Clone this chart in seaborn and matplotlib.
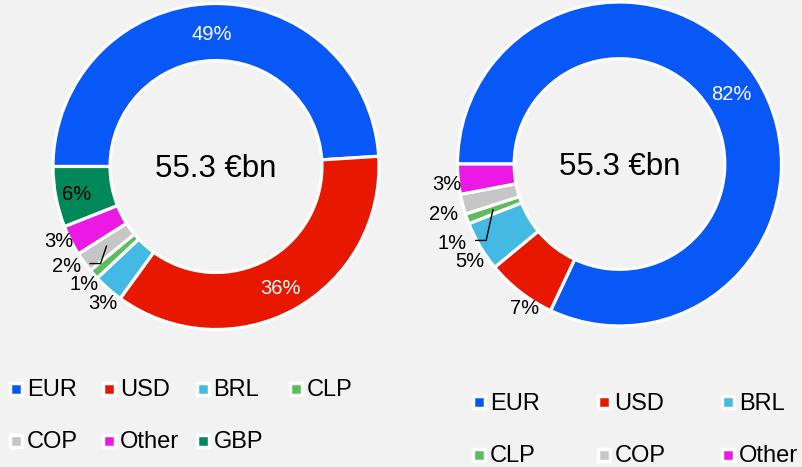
import numpy as np
import matplotlib
matplotlib.use('Agg')
import matplotlib.pyplot as plt
import seaborn as sns

## 資料
left_names = ['EUR', 'USD', 'BRL', 'CLP', 'COP', 'Other', 'GBP']
left_values = [49, 36, 3, 1, 2, 3, 6]
right_names = ['EUR', 'USD', 'BRL', 'CLP', 'COP', 'Other']
right_values = [82, 7, 5, 1, 2, 3]
center_text = '55.3 €bn'

colors = {'EUR': '#0858F8', 'USD': '#E81800', 'BRL': '#44B9E4', 'CLP': '#5BBD5B',
          'COP': '#C6C6C6', 'Other': '#EC18E6', 'GBP': '#00875A'}

## 標籤位置 (半徑, 角度微調, 字色)
left_lab_r = [0.82, 0.84, 1.085, 1.082, 1.10, 1.065, 0.87]
left_lab_da = [0, -0.9, 1.7, 0.2, -2.6, -1.8, 0]
left_lab_c = ['white', 'white', 'black', 'black', 'black', 'black', 'black']
right_lab_r = [0.815, 1.06, 1.10, 1.14, 1.13, 1.07]
right_lab_da = [0, 4.3, 2.1, 5.2, 1.1, 0.9]
right_lab_c = ['white', 'black', 'black', 'black', 'black', 'black']

bg = '#F2F2F2'
sns.set_theme(style='white', rc={'figure.facecolor': bg, 'axes.facecolor': 'none'})
plt.rcParams['font.family'] = ['Liberation Sans', 'DejaVu Sans']

fig = plt.figure(figsize=(8.02, 4.67), dpi=100)
W, H = 802, 467

def donut(cx, cy, R, names, values, lab_r, lab_da, lab_c, leader):
    size = 2.5 * R
    ax = fig.add_axes([(cx - size / 2) / W, (H - cy - size / 2) / H, size / W, size / H])
    pal = [colors[n] for n in names]
    wedges, _ = ax.pie(values, colors=pal, startangle=180, counterclock=False,
                       wedgeprops=dict(width=0.35, edgecolor='white', linewidth=2.3))
    ax.set_xlim(-1.25, 1.25)
    ax.set_ylim(-1.25, 1.25)
    ax.set_aspect('equal')
    ax.axis('off')
    for i, w in enumerate(wedges):
        mid = (w.theta1 + w.theta2) / 2
        a = np.deg2rad(mid + lab_da[i])
        x, y = lab_r[i] * np.cos(a), lab_r[i] * np.sin(a)
        ax.text(x, y - 0.008, f'{values[i]}%', ha='center', va='center', fontsize=14.5, color=lab_c[i])
        if names[i] == leader:
            m = np.deg2rad(mid)
            ex, ey = 0.83 * np.cos(m), 0.83 * np.sin(m)
            sx = x + 0.145
            ax.plot([sx, sx + 0.065, ex], [y + 0.01, y + 0.01, ey], color='black', lw=1)
    ax.text(0, -0.018, center_text, ha='center', va='center', fontsize=22.5, color='black')
    return ax

donut(216, 166.5, 163, left_names, left_values, left_lab_r, left_lab_da, left_lab_c, 'COP')
donut(619.5, 164, 162, right_names, right_values, right_lab_r, right_lab_da, right_lab_c, 'CLP')

## 圖例
lg = fig.add_axes([0, 0, 1, 1])
lg.set_xlim(0, W)
lg.set_ylim(H, 0)
lg.axis('off')

def legend(names, x0, pitch, ncol, y0, dy):
    for i, n in enumerate(names):
        x = x0 + (i % ncol) * pitch
        y = y0 + (i // ncol) * dy
        lg.scatter([x], [y], marker='s', s=81, color=colors[n], edgecolor='white', linewidth=2.5)
        lg.text(x + 11, y + 1.5, n, ha='left', va='center', fontsize=17, color='black')

legend(left_names, 16, 93.3, 4, 389, 52)
legend(right_names, 479, 124.5, 3, 402, 53)

fig.savefig('out.png', dpi=100, facecolor=bg)
